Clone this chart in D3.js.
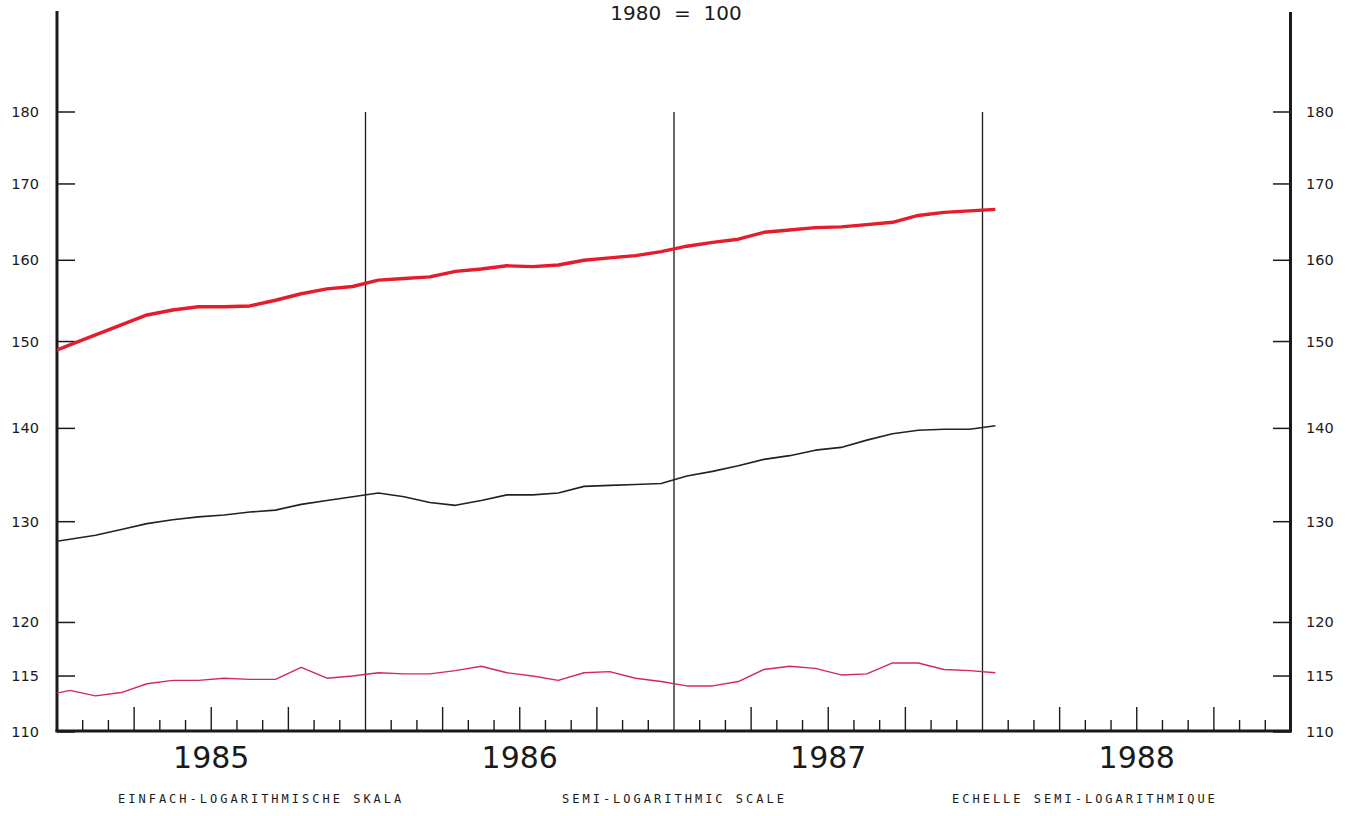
<!DOCTYPE html>
<html>
<head>
<meta charset="utf-8">
<script src="https://cdn.jsdelivr.net/npm/d3@7"></script>
<style>
  html, body { margin: 0; padding: 0; background: #ffffff; }
  svg { display: block; }
</style>
</head>
<body>
<svg id="chart" width="1357" height="816"></svg>
<script>
// ---- data (monthly, index 1980 = 100) ----
const months = ["1984-12","1985-01","1985-02","1985-03","1985-04","1985-05","1985-06","1985-07","1985-08","1985-09","1985-10","1985-11","1985-12",
  "1986-01","1986-02","1986-03","1986-04","1986-05","1986-06","1986-07","1986-08","1986-09","1986-10","1986-11","1986-12",
  "1987-01","1987-02","1987-03","1987-04","1987-05","1987-06","1987-07","1987-08","1987-09","1987-10","1987-11","1987-12","1988-01"];
const redSeries = [148.4,149.6,150.8,152.0,153.2,153.8,154.2,154.2,154.3,155.0,155.8,156.4,156.7,
  157.5,157.7,157.9,158.6,158.9,159.3,159.2,159.4,160.0,160.3,160.6,161.1,
  161.8,162.3,162.7,163.6,163.9,164.2,164.3,164.6,164.9,165.8,166.2,166.4,166.6];
const blackSeries = [127.8,128.2,128.6,129.2,129.8,130.2,130.5,130.7,131.0,131.2,131.8,132.2,132.6,
  133.0,132.6,132.0,131.7,132.2,132.8,132.8,133.0,133.7,133.8,133.9,134.0,
  134.8,135.3,135.9,136.6,137.0,137.6,137.9,138.7,139.4,139.8,139.9,139.9,140.3];
const pinkSeries = [113.2,113.7,113.2,113.5,114.3,114.6,114.6,114.8,114.7,114.7,115.8,114.8,115.0,
  115.3,115.2,115.2,115.5,115.9,115.3,115.0,114.6,115.3,115.4,114.8,114.5,
  114.1,114.1,114.5,115.6,115.9,115.7,115.1,115.2,116.2,116.2,115.6,115.5,115.3];
const yTicks = [110,115,120,130,140,150,160,170,180];
const years = [1985,1986,1987,1988];
const title = "1980  =  100";
const footLabels = ["EINFACH-LOGARITHMISCHE SKALA","SEMI-LOGARITHMIC SCALE","ECHELLE SEMI-LOGARITHMIQUE"];

// ---- layout ----
const X0 = 57, X1 = 1291, Y0 = 732, Y180 = 112;
const svg = d3.select("#chart");

const monthIndex = s => { const [y,m] = s.split("-").map(Number); return (y - 1985) * 12 + (m - 1); };
const x = d3.scaleLinear().domain([0, 48]).range([X0, X1]);
const y = d3.scaleLog().domain([110, 180]).range([Y0, Y180]);

const ink = "#1a1a1a";

// title
svg.append("text").attr("x", 676).attr("y", 20).attr("text-anchor", "middle")
  .style("font-family", "DejaVu Sans").style("font-size", "20px").style("white-space", "pre")
  .attr("fill", ink).text(title);

// clip
svg.append("clipPath").attr("id", "plot").append("rect")
  .attr("x", X0).attr("y", 0).attr("width", X1 - X0).attr("height", Y0);

// year boundary lines
svg.append("g").selectAll("line").data([1, 2, 3]).join("line")
  .attr("x1", d => x(d * 12)).attr("x2", d => x(d * 12))
  .attr("y1", y(180)).attr("y2", Y0 - 1)
  .attr("stroke", ink).attr("stroke-width", 1.3);

// month ticks
const mt = d3.range(1, 48).filter(d => d % 12 !== 0);
svg.append("g").selectAll("line").data(mt).join("line")
  .attr("x1", d => x(d)).attr("x2", d => x(d))
  .attr("y1", d => d % 3 === 0 ? Y0 - 25 : Y0 - 12).attr("y2", Y0 - 1)
  .attr("stroke", ink).attr("stroke-width", 1.4);

// y ticks left/right
svg.append("g").selectAll("line").data(yTicks).join("line")
  .attr("x1", X0).attr("x2", X0 + 18).attr("y1", d => y(d)).attr("y2", d => y(d))
  .attr("stroke", ink).attr("stroke-width", 1.5);
svg.append("g").selectAll("line").data(yTicks).join("line")
  .attr("x1", X1 - 18).attr("x2", X1).attr("y1", d => y(d)).attr("y2", d => y(d))
  .attr("stroke", ink).attr("stroke-width", 1.5);

// y labels
svg.append("g").selectAll("text").data(yTicks).join("text")
  .attr("x", 39).attr("y", d => y(d) + 5).attr("text-anchor", "end")
  .style("font-family", "DejaVu Sans").style("font-size", "14.5px").attr("fill", ink)
  .text(d => d);
svg.append("g").selectAll("text").data(yTicks).join("text")
  .attr("x", 1306).attr("y", d => y(d) + 5).attr("text-anchor", "start")
  .style("font-family", "DejaVu Sans").style("font-size", "14.5px").attr("fill", ink)
  .text(d => d);

// axes frame
svg.append("line").attr("x1", X0).attr("x2", X0).attr("y1", 11).attr("y2", Y0)
  .attr("stroke", ink).attr("stroke-width", 3);
svg.append("line").attr("x1", X1 - 0.5).attr("x2", X1 - 0.5).attr("y1", 12).attr("y2", Y0)
  .attr("stroke", ink).attr("stroke-width", 3);
svg.append("line").attr("x1", X0 - 1.5).attr("x2", X1 + 1).attr("y1", Y0 - 1).attr("y2", Y0 - 1)
  .attr("stroke", ink).attr("stroke-width", 3);

// series
const line = d3.line().x(d => x(monthIndex(d.m) + 0.5)).y(d => y(d.v));
const mk = arr => months.map((m, i) => ({ m, v: arr[i] }));
const g = svg.append("g").attr("clip-path", "url(#plot)");
g.append("path").datum(mk(blackSeries)).attr("d", line)
  .attr("fill", "none").attr("stroke", "#222").attr("stroke-width", 1.6).attr("stroke-linejoin", "round");
g.append("path").datum(mk(pinkSeries)).attr("d", line)
  .attr("fill", "none").attr("stroke", "#d4285a").attr("stroke-width", 1.4).attr("stroke-linejoin", "round");
g.append("path").datum(mk(redSeries)).attr("d", line)
  .attr("fill", "none").attr("stroke", "#e61c2c").attr("stroke-width", 3.4).attr("stroke-linejoin", "round");

// year labels
svg.append("g").selectAll("text").data(years).join("text")
  .attr("x", (d, i) => x(i * 12 + 6)).attr("y", 768).attr("text-anchor", "middle")
  .style("font-family", "DejaVu Sans").style("font-size", "30px").attr("fill", ink)
  .text(d => d);

// footer labels
const footX = [118, 562, 952];
svg.append("g").selectAll("text").data(footLabels).join("text")
  .attr("x", (d, i) => footX[i]).attr("y", 803)
  .style("font-family", "DejaVu Sans Mono").style("font-size", "12px")
  .style("letter-spacing", "3px").attr("fill", ink)
  .text(d => d);
</script>
</body>
</html>
